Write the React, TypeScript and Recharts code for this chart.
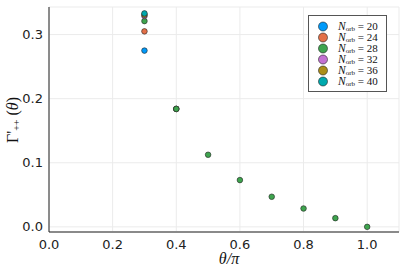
import React from "react";
import { ScatterChart, Scatter, XAxis, YAxis, CartesianGrid } from "recharts";

const seriesNames = ["20", "24", "28", "32", "36", "40"];
const seriesColors = ["#009AFA", "#E36F47", "#3EA44E", "#C371D2", "#AC8E18", "#00A9AD"];

const n20 = [{ x: 0.3, y: 0.275 }, { x: 0.4, y: 0.184 }];
const n24 = [{ x: 0.3, y: 0.305 }, { x: 0.4, y: 0.184 }];
const n28 = [
  { x: 0.3, y: 0.321 },
  { x: 0.4, y: 0.184 },
  { x: 0.5, y: 0.1125 },
  { x: 0.6, y: 0.073 },
  { x: 0.7, y: 0.047 },
  { x: 0.8, y: 0.0287 },
  { x: 0.9, y: 0.0136 },
  { x: 1.0, y: 0.0 },
];
const n32 = [{ x: 0.3, y: 0.329 }];
const n36 = [{ x: 0.3, y: 0.331 }];
const n40 = [{ x: 0.3, y: 0.333 }];

const seriesData = [n20, n24, n28, n32, n36, n40];

const xTicks = [0, 0.2, 0.4, 0.6, 0.8, 1.0];
const yTicks = [0, 0.1, 0.2, 0.3];

const serif = "'Liberation Serif', 'DejaVu Serif', serif";
const sans = "'DejaVu Sans', sans-serif";

const Dot = (props: any) => {
  const { cx, cy, fill } = props;
  if (cx == null || cy == null) return null;
  return <circle cx={cx} cy={cy} r={2.8} fill={fill} stroke="#222" strokeWidth={0.6} />;
};

const LegendBox = () => (
  <div
    style={{
      position: "absolute",
      left: 308,
      top: 15,
      border: "1px solid #555",
      background: "#fff",
      width: 79,
      height: 77,
      boxSizing: "border-box",
      paddingTop: 5,
    }}
  >
    {seriesNames.map((n, i) => (
      <div key={n} style={{ display: "flex", alignItems: "center", height: 11, position: "relative" }}>
        <svg width={29} height={11} style={{ flex: "none" }}>
          <circle cx={14} cy={5.5} r={4.5} fill={seriesColors[i]} stroke="#222" strokeWidth={0.6} />
        </svg>
        <span style={{ fontFamily: serif, fontSize: 11, lineHeight: "10px", color: "#111", whiteSpace: "nowrap" }}>
          <i style={{ fontSize: 11.5 }}>N</i>
          <span style={{ fontSize: 7, position: "relative", top: 1.5 }}>orb</span>
          {" = " + n}
        </span>
      </div>
    ))}
  </div>
);

const YLabel = () => (
  <text
    x={12}
    y={120}
    transform="rotate(-90 12 120)"
    textAnchor="middle"
    dominantBaseline="central"
    fontFamily={serif}
    fontSize={16}
    fill="#111"
  >
    <tspan>Γ'</tspan>
    <tspan fontSize={10} dy={4}>++</tspan>
    <tspan dy={-4}> (</tspan>
    <tspan fontStyle="italic">θ</tspan>
    <tspan>)</tspan>
  </text>
);

const XLabel = () => (
  <text x={229} y={264} textAnchor="middle" fontFamily={serif} fontSize={16} fontStyle="italic" fill="#111">
    θ/π
  </text>
);

export default function App() {
  return (
    <div style={{ position: "absolute", left: 0, top: 0, width: 407, height: 271, background: "#fff" }}>
      <ScatterChart width={407} height={271} margin={{ top: 7, right: 8, bottom: 0, left: 0 }}>
        <CartesianGrid stroke="#ebebeb" strokeWidth={1} />
        <XAxis
          type="number"
          dataKey="x"
          domain={[0, 1.1]}
          ticks={xTicks}
          tickFormatter={(v: number) => v.toFixed(1)}
          height={39}
          tickLine={false}
          tickSize={6}
          tickMargin={2}
          axisLine={{ stroke: "#8a8a8a", strokeWidth: 2 }}
          tick={{ fontFamily: sans, fontSize: 13, fill: "#222" }}
          allowDataOverflow
          label={<XLabel />}
        />
        <YAxis
          type="number"
          dataKey="y"
          domain={[-0.008, 0.343]}
          ticks={yTicks}
          tickFormatter={(v: number) => v.toFixed(1)}
          width={49}
          tickLine={false}
          tickSize={4}
          tickMargin={2}
          axisLine={{ stroke: "#222", strokeWidth: 1 }}
          tick={{ fontFamily: sans, fontSize: 13, fill: "#222" }}
          allowDataOverflow
          label={<YLabel />}
        />
        {seriesData.map((d, i) => (
          <Scatter
            key={seriesNames[i]}
            name={"N_orb = " + seriesNames[i]}
            data={d}
            fill={seriesColors[i]}
            shape={<Dot />}
            isAnimationActive={false}
          />
        ))}
      </ScatterChart>
      <LegendBox />
    </div>
  );
}
